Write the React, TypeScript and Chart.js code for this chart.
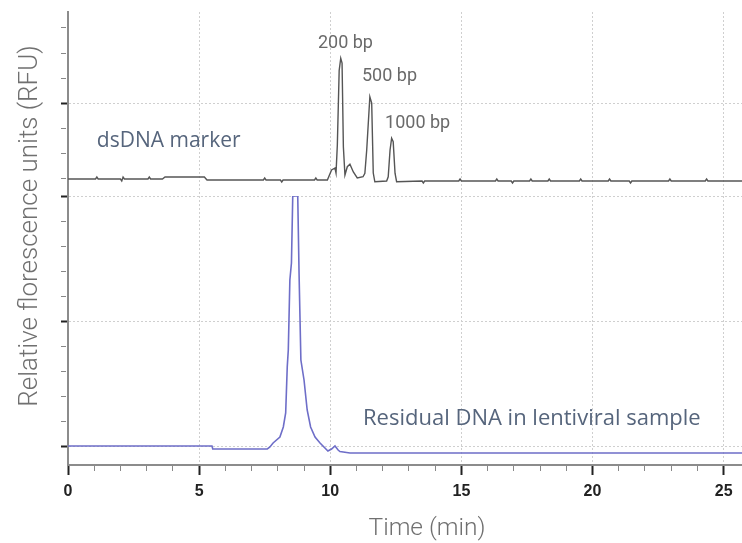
import React, { useEffect, useRef } from "react";
import { Chart, registerables } from "chart.js";

Chart.register(...registerables);

// ---- data ----
// x axis: time in minutes
const xTickValues = [0, 1, 2, 3, 4, 5, 6, 7, 8, 9, 10, 11, 12, 13, 14, 15, 16, 17, 18, 19, 20, 21, 22, 23, 24, 25];
const xLabelValues = [0, 5, 10, 15, 20, 25];

// upper trace: dsDNA marker (relative units)
const markerTime = [
  0, 1.05, 1.1, 1.15, 2.0, 2.05, 2.1, 2.15, 3.05, 3.1, 3.15, 3.6, 3.7, 5.2, 5.3,
  7.45, 7.5, 7.55, 8.1, 8.15, 8.2, 9.4, 9.45, 9.5, 9.89,
  10.05, 10.18, 10.22, 10.27, 10.34, 10.4, 10.45, 10.5, 10.56, 10.65, 10.75, 10.88, 11.03,
  11.25, 11.32, 11.39, 11.51, 11.58, 11.64, 11.7,
  12.15, 12.21, 12.28, 12.34, 12.4, 12.47, 12.53,
  13.5, 13.55, 13.6, 14.9, 14.95, 15.0, 16.3, 16.35, 16.4, 16.9, 16.95, 17.0,
  17.6, 17.65, 17.7, 18.3, 18.35, 18.4, 19.5, 19.55, 19.6, 20.6, 20.65, 20.7,
  21.4, 21.45, 21.5, 22.9, 22.95, 23.0, 24.3, 24.35, 24.4, 25.7,
];
const markerRFU = [
  -0.04, -0.04, 0.04, -0.04, -0.04, -0.12, 0.04, -0.04, -0.04, 0.04, -0.04, -0.04, 0.04, 0.04, -0.08,
  -0.08, 0.0, -0.08, -0.08, -0.16, -0.08, -0.08, 0.0, -0.08, -0.08,
  0.32, 0.4, 0.2, 1.32, 4.3, 4.79, 4.6, 1.25, 0.12, 0.45, 0.55, 0.24, 0.0,
  0.05, 0.19, 1.12, 3.25, 3.0, 0.2, -0.15,
  -0.12, 0.05, 1.12, 1.59, 1.45, 0.19, -0.15,
  -0.12, -0.2, -0.12, -0.12, -0.04, -0.12, -0.12, -0.04, -0.12, -0.12, -0.2, -0.12,
  -0.12, -0.04, -0.12, -0.12, -0.04, -0.12, -0.12, -0.04, -0.12, -0.12, -0.04, -0.12,
  -0.12, -0.2, -0.12, -0.12, -0.04, -0.12, -0.12, -0.04, -0.12, -0.12,
];

// lower trace: residual DNA in lentiviral sample (relative units)
const sampleTime = [
  0, 5.49, 5.52, 7.6, 7.7, 7.82, 8.08, 8.21, 8.3, 8.36, 8.4, 8.46, 8.52, 8.57, 8.76,
  8.81, 8.88, 9.0, 9.12, 9.25, 9.42, 9.61, 9.91, 10.05, 10.18, 10.3, 10.37, 10.75, 25.7,
];
const sampleRFU = [
  0, 0, -0.12, -0.12, -0.04, 0.12, 0.36, 0.76, 1.32, 3.16, 3.84, 6.64, 7.32, 10, 10,
  6.92, 3.44, 2.64, 1.44, 0.76, 0.36, 0.12, -0.2, -0.12, 0.0, -0.16, -0.22, -0.28, -0.28,
];

// y tick values for each panel
const topTickValues = [0, 1, 2, 3, 4, 5, 6];
const topMajorValues = [3];
const botTickValues = [0, 1, 2, 3, 4, 5, 6, 7, 8, 9, 10];
const botMajorValues = [0, 5, 10];

// text
const peakLabels = ["200 bp", "500 bp", "1000 bp"];
const peakLabelX = [9.53, 11.21, 12.09];
const peakLabelY = [5.2, 3.88, 2.0];
const markerTitle = "dsDNA marker";
const sampleTitle = "Residual DNA in lentiviral sample";
const xTitle = "Time (min)";
const yTitle = "Relative florescence units (RFU)";

const W = 742;
const H = 543;

export default function App() {
  const ref = useRef<HTMLCanvasElement | null>(null);

  useEffect(() => {
    document.body.style.margin = "0";
    const canvas = ref.current;
    if (!canvas) return;

    const isIn = (arr: number[], v: number) => arr.some((a) => Math.abs(a - v) < 1e-9);

    const textPlugin = {
      id: "texts",
      afterDraw(chart: any) {
        const ctx = chart.ctx as CanvasRenderingContext2D;
        const x = chart.scales.x;
        const yT = chart.scales.yTop;
        const yB = chart.scales.yBot;
        ctx.save();
        ctx.textBaseline = "alphabetic";
        ctx.textAlign = "left";
        // peak labels
        ctx.fillStyle = "#6a6a6a";
        ctx.font = "18px Roboto, 'Noto Sans', sans-serif";
        peakLabels.forEach((t, i) => {
          ctx.fillText(t, x.getPixelForValue(peakLabelX[i]), yT.getPixelForValue(peakLabelY[i]));
        });
        // panel titles
        ctx.fillStyle = "#56657c";
        ctx.font = "21px 'Open Sans', sans-serif";
        ctx.fillText(markerTitle, x.getPixelForValue(1.1), yT.getPixelForValue(1.24));
        ctx.font = "22px 'Open Sans', sans-serif";
        ctx.fillText(sampleTitle, x.getPixelForValue(11.25), yB.getPixelForValue(0.84));
        // axis titles
        ctx.fillStyle = "#707070";
        ctx.textAlign = "center";
        ctx.font = "300 24.5px Roboto, 'Noto Sans', sans-serif";
        ctx.fillText(xTitle, 427, 535);
        ctx.save();
        ctx.translate(37, 226);
        ctx.rotate(-Math.PI / 2);
        ctx.font = "300 26px Roboto, 'Noto Sans', sans-serif";
        ctx.fillText(yTitle, 0, 0);
        ctx.restore();
        ctx.restore();
      },
    };

    const yCommon = (ticks: number[], majors: number[]) => ({
      type: "linear" as const,
      position: "left" as const,
      stack: "v",
      afterBuildTicks: (s: any) => {
        s.ticks = ticks.map((v) => ({ value: v }));
      },
      afterFit: (s: any) => {
        s.width = 68;
      },
      ticks: { display: false },
      border: { color: "#8c8c8c", width: 2, dash: [2, 2] },
      grid: {
        drawTicks: true,
        tickLength: 7,
        lineWidth: 1,
        color: (c: any) => (c.tick && isIn(majors, c.tick.value) ? "#cfcfcf" : "rgba(0,0,0,0)"),
        tickColor: (c: any) => (c.tick && isIn(majors, c.tick.value) ? "#222" : "#888"),
        tickWidth: (c: any) => (c.tick && isIn(majors, c.tick.value) ? 2 : 1),
        tickBorderDash: (c: any) => (c.tick && isIn(majors, c.tick.value) ? [] : [5, 100]),
      },
    });

    const chart = new Chart(canvas, {
      type: "line",
      data: {
        datasets: [
          {
            label: markerTitle,
            data: markerTime.map((t, i) => ({ x: t, y: markerRFU[i] })),
            yAxisID: "yTop",
            borderColor: "#555555",
            borderWidth: 1.4,
            pointRadius: 0,
            tension: 0,
          },
          {
            label: sampleTitle,
            data: sampleTime.map((t, i) => ({ x: t, y: sampleRFU[i] })),
            yAxisID: "yBot",
            borderColor: "#6e6ec8",
            borderWidth: 1.6,
            pointRadius: 0,
            tension: 0,
          },
        ],
      },
      options: {
        animation: false,
        responsive: false,
        devicePixelRatio: 1,
        layout: { padding: { top: 12, left: 0, right: 0, bottom: 0 } },
        plugins: { legend: { display: false }, tooltip: { enabled: false } },
        scales: {
          x: {
            type: "linear",
            min: 0,
            max: 25.7,
            afterBuildTicks: (s: any) => {
              s.ticks = xTickValues.map((v) => ({ value: v }));
            },
            afterFit: (s: any) => {
              s.height = 78;
            },
            ticks: {
              autoSkip: false,
              maxRotation: 0,
              padding: 7,
              color: "#222",
              font: { family: "'Liberation Sans Narrow', 'Arial Narrow', Arial, sans-serif", size: 16, weight: "bold" },
              callback: (v: any) => (isIn(xLabelValues, Number(v)) ? String(v) : ""),
            },
            border: { color: "#8c8c8c", width: 2, dash: [2, 2] },
            grid: {
              drawTicks: true,
              tickLength: 10,
              lineWidth: 1,
              color: (c: any) =>
                c.tick && isIn(xLabelValues, c.tick.value) && c.tick.value !== 0 ? "#cfcfcf" : "rgba(0,0,0,0)",
              tickColor: (c: any) => (c.tick && isIn(xLabelValues, c.tick.value) ? "#222" : "#888"),
              tickWidth: (c: any) => (c.tick && isIn(xLabelValues, c.tick.value) ? 2 : 1),
              tickBorderDash: (c: any) => (c.tick && isIn(xLabelValues, c.tick.value) ? [] : [5, 100]),
            },
          },
          yBot: { ...yCommon(botTickValues, botMajorValues), min: -0.76, max: 10, stackWeight: 269, weight: 1 },
          yTop: { ...yCommon(topTickValues, topMajorValues), min: -0.72, max: 6.64, stackWeight: 184, weight: 2 },
        } as any,
      },
      plugins: [textPlugin],
    });

    return () => chart.destroy();
  }, []);

  return <canvas ref={ref} width={W} height={H} style={{ display: "block", width: W, height: H }} />;
}
